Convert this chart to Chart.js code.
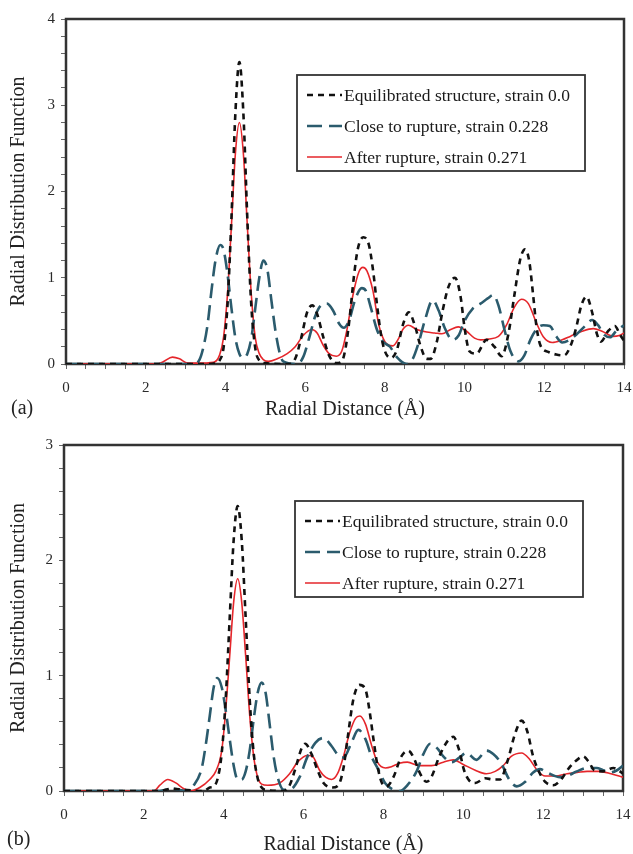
<!DOCTYPE html>
<html>
<head>
<meta charset="utf-8">
<script src="https://cdn.jsdelivr.net/npm/chart.js@4"></script>
<style>
  body { margin: 0; background: #fff; width: 633px; height: 854px; position: relative; overflow: hidden; }
  canvas { position: absolute; left: 0; }
  #chartA { top: 0; }
  #chartB { top: 430px; }
  .tag { position: absolute; font-family: 'Liberation Serif', serif; font-size: 20px; color: #222; }
</style>
</head>
<body>
<canvas id="chartA" width="633" height="430"></canvas>
<canvas id="chartB" width="633" height="424"></canvas>
<div class="tag" style="left:11px;top:396px;">(a)</div>
<div class="tag" style="left:7px;top:827px;">(b)</div>
<script>
var labels = ['Equilibrated structure, strain 0.0', 'Close to rupture, strain 0.228', 'After rupture, strain 0.271'];

// panel (a)
var eqA_x = [0, 3.5, 3.75, 3.85, 3.95, 4.05, 4.15, 4.25, 4.35, 4.45, 4.55, 4.65, 4.75, 4.85, 5.0, 5.6, 5.75, 5.9, 6.05, 6.18, 6.3, 6.45, 6.6, 6.78, 6.92, 7.02, 7.12, 7.22, 7.32, 7.46, 7.6, 7.7, 7.8, 7.9, 8.0, 8.15, 8.3, 8.45, 8.6, 8.75, 8.9, 9.05, 9.15, 9.3, 9.45, 9.6, 9.76, 9.9, 10.0, 10.12, 10.3, 10.55, 10.75, 10.93, 11.1, 11.25, 11.4, 11.52, 11.62, 11.72, 11.8, 11.9, 12.1, 12.3, 12.5, 12.65, 12.8, 12.93, 13.06, 13.2, 13.32, 13.42, 13.6, 13.77, 13.9, 14];
var eqA_y = [0, 0, 0.01, 0.04, 0.18, 0.67, 1.68, 2.91, 3.5, 2.91, 1.68, 0.67, 0.18, 0.04, 0.01, 0, 0.06, 0.3, 0.6, 0.68, 0.58, 0.32, 0.1, 0.01, 0.03, 0.2, 0.55, 1.0, 1.33, 1.47, 1.38, 1.1, 0.7, 0.35, 0.15, 0.07, 0.16, 0.45, 0.6, 0.45, 0.2, 0.06, 0.06, 0.25, 0.62, 0.9, 1.0, 0.78, 0.42, 0.15, 0.12, 0.28, 0.2, 0.09, 0.35, 0.8, 1.22, 1.33, 1.2, 0.8, 0.45, 0.22, 0.14, 0.11, 0.1, 0.2, 0.42, 0.68, 0.78, 0.6, 0.35, 0.26, 0.38, 0.44, 0.34, 0.27];

var closeA_x = [0, 3.2, 3.35, 3.45, 3.55, 3.65, 3.75, 3.87, 3.95, 4.05, 4.15, 4.25, 4.35, 4.45, 4.55, 4.65, 4.75, 4.85, 4.95, 5.05, 5.15, 5.25, 5.35, 5.45, 5.8, 5.95, 6.1, 6.25, 6.4, 6.55, 6.7, 6.85, 6.97, 7.1, 7.25, 7.42, 7.52, 7.65, 7.8, 7.95, 8.13, 8.3, 8.55, 8.7, 8.85, 9.0, 9.2, 9.35, 9.5, 9.7, 9.85, 10.0, 10.2, 10.4, 10.58, 10.72, 10.85, 11.0, 11.15, 11.35, 11.5, 11.65, 11.8, 11.97, 12.14, 12.3, 12.45, 12.6, 12.8, 13.0, 13.2, 13.35, 13.5, 13.65, 13.8, 14];
var closeA_y = [0, 0, 0.05, 0.2, 0.45, 0.85, 1.2, 1.38, 1.33, 1.05, 0.65, 0.3, 0.12, 0.07, 0.12, 0.3, 0.65, 1.0, 1.2, 1.1, 0.75, 0.4, 0.15, 0.03, 0, 0.08, 0.3, 0.55, 0.68, 0.7, 0.62, 0.47, 0.42, 0.5, 0.74, 0.88, 0.85, 0.65, 0.4, 0.26, 0.2, 0.08, 0, 0.06, 0.25, 0.5, 0.74, 0.62, 0.42, 0.28, 0.33, 0.5, 0.64, 0.7, 0.76, 0.8, 0.68, 0.4, 0.15, 0.03, 0.1, 0.28, 0.4, 0.45, 0.44, 0.32, 0.25, 0.27, 0.34, 0.43, 0.51, 0.45, 0.34, 0.31, 0.38, 0.45];

var afterA_x = [0, 2.3, 2.45, 2.67, 2.85, 3.05, 3.3, 3.7, 3.85, 3.95, 4.05, 4.15, 4.25, 4.35, 4.45, 4.55, 4.65, 4.75, 4.85, 4.95, 5.08, 5.3, 5.55, 5.75, 5.95, 6.16, 6.3, 6.45, 6.6, 6.78, 6.92, 7.05, 7.2, 7.35, 7.45, 7.55, 7.7, 7.85, 8.0, 8.2, 8.35, 8.45, 8.59, 8.8, 9.05, 9.25, 9.43, 9.65, 9.84, 10.05, 10.25, 10.4, 10.6, 10.85, 11.05, 11.25, 11.43, 11.6, 11.8, 11.97, 12.2, 12.45, 12.65, 12.95, 13.23, 13.45, 13.73, 13.88, 14];
var afterA_y = [0, 0, 0.03, 0.08, 0.06, 0.01, 0.01, 0.02, 0.1, 0.3, 0.8, 1.6, 2.44, 2.8, 2.44, 1.6, 0.8, 0.3, 0.12, 0.05, 0.03, 0.06, 0.12, 0.2, 0.33, 0.4, 0.36, 0.22, 0.12, 0.09, 0.15, 0.4, 0.8, 1.07, 1.12, 1.08, 0.85, 0.45, 0.26, 0.21, 0.3, 0.4, 0.45, 0.4, 0.37, 0.36, 0.35, 0.4, 0.43, 0.38, 0.3, 0.28, 0.29, 0.32, 0.45, 0.66, 0.75, 0.7, 0.48, 0.32, 0.25, 0.28, 0.32, 0.38, 0.41, 0.38, 0.32, 0.33, 0.36];

// panel (b)
var eqB_x = [0, 2.4, 2.7, 3.0, 3.5, 3.65, 3.75, 3.85, 3.95, 4.05, 4.15, 4.25, 4.35, 4.45, 4.55, 4.65, 4.75, 4.85, 4.95, 5.05, 5.5, 5.65, 5.8, 5.95, 6.04, 6.2, 6.35, 6.5, 6.72, 6.87, 7.0, 7.1, 7.25, 7.4, 7.55, 7.65, 7.75, 7.85, 7.95, 8.08, 8.25, 8.45, 8.62, 8.77, 8.92, 9.08, 9.2, 9.4, 9.6, 9.75, 9.9, 10.02, 10.15, 10.3, 10.55, 10.75, 10.92, 11.1, 11.3, 11.46, 11.6, 11.75, 11.92, 12.05, 12.25, 12.45, 12.65, 12.85, 13.0, 13.15, 13.28, 13.5, 13.76, 13.88, 14];
var eqB_y = [0, 0, 0.02, 0.01, 0, 0.03, 0.04, 0.11, 0.33, 0.8, 1.5, 2.18, 2.47, 2.18, 1.5, 0.8, 0.33, 0.11, 0.03, 0.01, 0, 0.05, 0.2, 0.37, 0.41, 0.32, 0.18, 0.07, 0.03, 0.05, 0.2, 0.45, 0.8, 0.92, 0.88, 0.7, 0.45, 0.22, 0.08, 0.04, 0.12, 0.3, 0.35, 0.28, 0.15, 0.08, 0.12, 0.3, 0.43, 0.47, 0.35, 0.18, 0.09, 0.07, 0.11, 0.1, 0.1, 0.25, 0.5, 0.61, 0.52, 0.3, 0.15, 0.08, 0.05, 0.1, 0.2, 0.27, 0.3, 0.25, 0.18, 0.17, 0.2, 0.18, 0.15];

var closeB_x = [0, 2.4, 2.7, 3.05, 3.25, 3.45, 3.55, 3.65, 3.75, 3.84, 3.95, 4.05, 4.15, 4.25, 4.35, 4.45, 4.55, 4.65, 4.75, 4.85, 4.95, 5.05, 5.15, 5.25, 5.35, 5.5, 5.7, 5.9, 6.1, 6.3, 6.5, 6.7, 6.87, 7.0, 7.2, 7.37, 7.55, 7.7, 7.85, 8.04, 8.2, 8.41, 8.6, 8.83, 9.0, 9.17, 9.35, 9.5, 9.71, 9.9, 10.08, 10.33, 10.58, 10.75, 10.95, 11.15, 11.34, 11.55, 11.75, 11.92, 12.1, 12.42, 12.6, 12.84, 13.1, 13.34, 13.5, 13.67, 13.85, 14];
var closeB_y = [0, 0, 0.02, 0, 0.05, 0.2, 0.4, 0.65, 0.9, 0.98, 0.9, 0.7, 0.45, 0.22, 0.1, 0.1, 0.17, 0.35, 0.62, 0.85, 0.94, 0.85, 0.58, 0.3, 0.12, 0.01, 0.02, 0.12, 0.3, 0.42, 0.46, 0.39, 0.31, 0.29, 0.42, 0.53, 0.45, 0.3, 0.2, 0.07, 0.02, 0, 0.05, 0.17, 0.32, 0.41, 0.37, 0.3, 0.25, 0.29, 0.33, 0.27, 0.35, 0.32, 0.24, 0.1, 0.04, 0.08, 0.16, 0.19, 0.16, 0.12, 0.13, 0.17, 0.2, 0.2, 0.18, 0.16, 0.18, 0.22];

var afterB_x = [0, 2.25, 2.4, 2.6, 2.8, 3.0, 3.15, 3.4, 3.65, 3.8, 3.95, 4.05, 4.15, 4.25, 4.35, 4.45, 4.55, 4.65, 4.75, 4.85, 4.95, 5.1, 5.4, 5.65, 5.85, 6.1, 6.25, 6.4, 6.55, 6.7, 6.85, 7.0, 7.15, 7.3, 7.41, 7.55, 7.7, 7.85, 8.05, 8.2, 8.4, 8.6, 8.9, 9.2, 9.5, 9.75, 10.0, 10.3, 10.58, 10.8, 11.0, 11.2, 11.46, 11.65, 11.85, 12.05, 12.3, 12.6, 12.85, 13.1, 13.4, 13.7, 14];
var afterB_y = [0, 0, 0.05, 0.1, 0.07, 0.02, 0, 0.03, 0.1, 0.17, 0.35, 0.7, 1.17, 1.64, 1.84, 1.64, 1.17, 0.66, 0.3, 0.12, 0.06, 0.05, 0.07, 0.15, 0.25, 0.31, 0.29, 0.18, 0.12, 0.1, 0.15, 0.3, 0.5, 0.63, 0.65, 0.58, 0.4, 0.25, 0.2, 0.21, 0.24, 0.25, 0.22, 0.22, 0.25, 0.27, 0.23, 0.18, 0.15, 0.17, 0.22, 0.3, 0.33, 0.28, 0.18, 0.13, 0.13, 0.15, 0.16, 0.17, 0.17, 0.15, 0.12];

var rMin = 0, rMax = 14;

function toPoints(xs, ys) {
    var pts = [];
    for (var i = 0; i < xs.length; i++) {
        pts.push({x: xs[i], y: ys[i]});
    }
    return pts;
}

var serif = "'Liberation Serif', 'Times New Roman', serif";
Chart.defaults.font.family = serif;
Chart.defaults.color = '#2a2a2a';

// thick frame round the plot area
var framePlugin = {
    id: 'frame',
    beforeDatasetsDraw: function(chart) {
        var a = chart.chartArea, ctx = chart.ctx;
        ctx.save();
        ctx.strokeStyle = '#333';
        ctx.lineWidth = 2.5;
        ctx.strokeRect(a.left, a.top, a.right - a.left, a.bottom - a.top);
        ctx.restore();
    }
};

// boxed legend sitting inside the plot
var boxLegend = {
    id: 'boxLegend',
    afterDraw: function(chart) {
        var a = chart.chartArea, ctx = chart.ctx;
        var left = a.left + 231, top = a.top + 56, w = 288, h = 96;
        ctx.save();
        ctx.fillStyle = '#fff';
        ctx.fillRect(left, top, w, h);
        ctx.strokeStyle = '#333';
        ctx.lineWidth = 1.8;
        ctx.strokeRect(left, top, w, h);
        ctx.font = '17.5px ' + serif;
        ctx.textBaseline = 'middle';
        chart.data.datasets.forEach(function(ds, i) {
            var y = top + 20 + i * 31;
            ctx.beginPath();
            ctx.setLineDash(ds.borderDash || []);
            ctx.strokeStyle = ds.borderColor;
            ctx.lineWidth = ds.borderWidth;
            ctx.moveTo(left + 10, y);
            ctx.lineTo(left + 45, y);
            ctx.stroke();
            ctx.setLineDash([]);
            ctx.fillStyle = '#1a1a1a';
            ctx.fillText(ds.label, left + 47, y + 1);
        });
        ctx.restore();
    }
};

function makeChart(id, eq, close, after, yMax, pad, xHeight, titlePad) {
    return new Chart(document.getElementById(id), {
        type: 'line',
        data: {
            datasets: [{
                label: labels[0],
                data: eq,
                borderColor: '#111',
                borderWidth: 2.6,
                borderDash: [6, 5]
            }, {
                label: labels[1],
                data: close,
                borderColor: '#2b5b6d',
                borderWidth: 2.6,
                borderDash: [15, 7]
            }, {
                label: labels[2],
                data: after,
                borderColor: '#e5262b',
                borderWidth: 1.6
            }]
        },
        options: {
            responsive: false,
            animation: false,
            layout: { padding: pad },
            elements: {
                point: { radius: 0 },
                line: { cubicInterpolationMode: 'monotone', fill: false }
            },
            plugins: {
                legend: { display: false },
                tooltip: { enabled: false }
            },
            scales: {
                x: {
                    type: 'linear',
                    min: rMin,
                    max: rMax,
                    border: { display: false },
                    grid: { drawOnChartArea: false, color: '#666', tickLength: 5 },
                    ticks: {
                        stepSize: 0.5,
                        autoSkip: false,
                        maxRotation: 0,
                        padding: 10,
                        font: { size: 15 },
                        callback: function(v) { return v % 2 === 0 ? v : ''; }
                    },
                    title: {
                        display: true,
                        text: 'Radial Distance (Å)',
                        font: { size: 20 },
                        color: '#222',
                        padding: { top: 0, bottom: titlePad }
                    },
                    afterFit: function(scale) {
                        scale.height = xHeight;
                        // let the end labels hang past the plot edges
                        scale.paddingLeft = 0;
                        scale.paddingRight = 0;
                    }
                },
                y: {
                    min: 0,
                    max: yMax,
                    border: { display: false },
                    grid: { drawOnChartArea: false, color: '#666', tickLength: 5 },
                    ticks: {
                        stepSize: 0.2,
                        autoSkip: false,
                        padding: 6,
                        font: { size: 15 },
                        callback: function(v) { return Math.abs(v - Math.round(v)) < 1e-6 ? Math.round(v) : ''; }
                    },
                    title: {
                        display: true,
                        text: 'Radial Distribution Function',
                        font: { size: 20 },
                        color: '#222',
                        padding: { top: 7, bottom: 0 }
                    },
                    afterFit: function(scale) { scale.width = pad.yWidth; }
                }
            }
        },
        plugins: [framePlugin, boxLegend]
    });
}

var chartA = makeChart('chartA',
    toPoints(eqA_x, eqA_y), toPoints(closeA_x, closeA_y), toPoints(afterA_x, afterA_y),
    4, {top: 19, right: 9, left: 0, bottom: 0, yWidth: 66}, 66, 8);

var chartB = makeChart('chartB',
    toPoints(eqB_x, eqB_y), toPoints(closeB_x, closeB_y), toPoints(afterB_x, afterB_y),
    3, {top: 15, right: 10, left: 0, bottom: 0, yWidth: 64}, 63, -3);
</script>
</body>
</html>
